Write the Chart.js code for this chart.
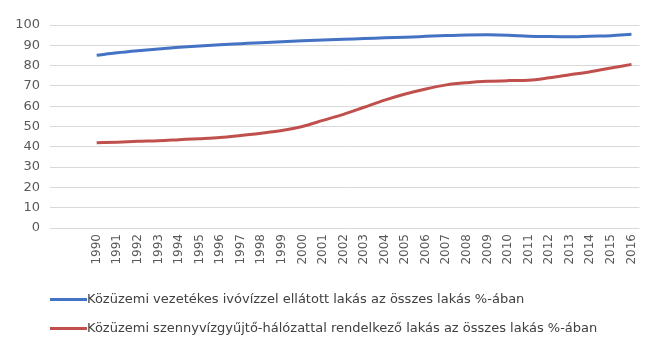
<!DOCTYPE html>
<html>
<head>
<meta charset="utf-8">
<script src="https://cdn.jsdelivr.net/npm/chart.js@4"></script>
<style>
  html, body { margin: 0; padding: 0; background: #fff; }
  #wrap { position: relative; width: 652px; height: 338px; }
  #legend { position: absolute; left: 50px; top: 290px; font-family: "DejaVu Sans", sans-serif; font-size: 13px; color: #404040; }
  #legend .row { height: 29px; line-height: 18px; white-space: nowrap; }
  #legend .swatch { display: inline-block; width: 37px; height: 3px; vertical-align: middle; margin-right: 0; }
</style>
</head>
<body>
<div id="wrap">
  <canvas id="myChart" width="652" height="338"></canvas>
  <div id="legend"></div>
</div>
<script>
var evek = [1990, 1991, 1992, 1993, 1994, 1995, 1996, 1997, 1998, 1999, 2000, 2001, 2002, 2003,
    2004, 2005, 2006, 2007, 2008, 2009, 2010, 2011, 2012, 2013, 2014, 2015, 2016];
var ivoviz = [85.1, 86.3, 87.3, 88.2, 89, 89.7, 90.3, 90.8, 91.3, 91.7, 92.2, 92.6, 93, 93.3,
    93.7, 94, 94.4, 94.8, 95.1, 95.2, 95, 94.5, 94.3, 94.2, 94.5, 94.7, 95.4];
var szennyviz = [42, 42.3, 42.7, 43, 43.5, 44, 44.6, 45.6, 46.7, 48, 50, 53, 56, 59.5,
    63, 66, 68.5, 70.5, 71.6, 72.3, 72.6, 72.8, 74, 75.5, 77, 78.8, 80.6];
var yTicks = [0, 10, 20, 30, 40, 50, 60, 70, 80, 90, 100];
var sorNevek = [
    "Közüzemi vezetékes ivóvízzel ellátott lakás az összes lakás %-ában",
    "Közüzemi szennyvízgyűjtő-hálózattal rendelkező lakás az összes lakás %-ában"
];

function pontok(ertekek) {
    return evek.map(function (ev, i) { return { x: ev, y: ertekek[i] }; });
}

var ctx = document.getElementById("myChart").getContext("2d");
var myChart = new Chart(ctx, {
    type: "line",
    data: {
        datasets: [
            {
                label: sorNevek[0],
                data: pontok(ivoviz),
                borderColor: "#4472c4",
                borderWidth: 3,
                pointRadius: 0,
                cubicInterpolationMode: "monotone",
            },
            {
                label: sorNevek[1],
                data: pontok(szennyviz),
                borderColor: "#c0504d",
                borderWidth: 3,
                pointRadius: 0,
                cubicInterpolationMode: "monotone",
            },
        ],
    },
    options: {
        responsive: false,
        animation: false,
        layout: { padding: { top: 25, right: 9, bottom: 65, left: 0 } },
        plugins: {
            legend: { display: false },
            tooltip: { enabled: false },
        },
        scales: {
            x: {
                type: "linear",
                min: 1987.73,
                max: 2016.39,
                grid: { display: false, drawTicks: false },
                border: { display: false },
                afterBuildTicks: function (axis) {
                    axis.ticks = evek.map(function (ev) { return { value: ev }; });
                },
                afterFit: function (axis) { axis.height = 45; },
                ticks: {
                    minRotation: 90,
                    maxRotation: 90,
                    autoSkip: false,
                    padding: 6,
                    color: "#595959",
                    font: { family: "DejaVu Sans", size: 12 },
                    callback: function (v) { return String(v); },
                },
            },
            y: {
                min: 0,
                max: 100,
                afterBuildTicks: function (axis) {
                    axis.ticks = yTicks.map(function (v) { return { value: v }; });
                },
                afterFit: function (axis) { axis.width = 50; },
                grid: { color: "#d9d9d9", drawTicks: false },
                border: { display: false },
                ticks: {
                    padding: 10,
                    color: "#595959",
                    font: { family: "DejaVu Sans", size: 13 },
                },
            },
        },
    },
});

// html legend, one row per dataset
var legendEl = document.getElementById("legend");
myChart.data.datasets.forEach(function (ds) {
    var row = document.createElement("div");
    row.className = "row";
    var sw = document.createElement("span");
    sw.className = "swatch";
    sw.style.background = ds.borderColor;
    row.appendChild(sw);
    row.appendChild(document.createTextNode(ds.label));
    legendEl.appendChild(row);
});
</script>
</body>
</html>
